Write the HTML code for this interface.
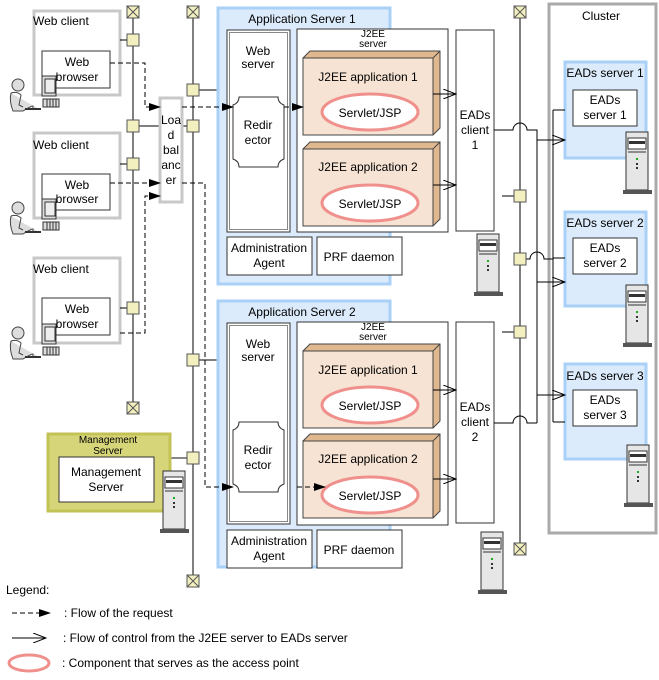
<!DOCTYPE html>
<html><head><meta charset="utf-8"><style>
html,body{margin:0;padding:0;background:#fff;}
svg{display:block;font-family:"Liberation Sans",sans-serif;}
text{font-size:12px;fill:#000;}
.s{font-size:10px;}
</style></head><body>
<svg width="659" height="680" viewBox="0 0 659 680" xmlns="http://www.w3.org/2000/svg">
<defs>
<marker id="fa" markerWidth="12" markerHeight="8" refX="11" refY="4" orient="auto" markerUnits="userSpaceOnUse"><path d="M0,0 L12,4 L0,8 Z" fill="#000"/></marker>
<marker id="oa" markerWidth="14" markerHeight="10" refX="13" refY="5" orient="auto" markerUnits="userSpaceOnUse"><path d="M0,0 L13,5 L0,10" fill="none" stroke="#000" stroke-width="1"/></marker>
<g id="sq"><rect x="-6" y="-6" width="12" height="12" fill="#f3f0c0" stroke="#555"/></g>
<g id="xb"><rect x="-6" y="-6" width="12" height="12" fill="#f3f0c0" stroke="#555"/><path d="M-6,-6 L6,6 M6,-6 L-6,6" stroke="#555"/></g>
<g id="srv"><rect x="3" y="0" width="22" height="58" fill="#e6e6e6" stroke="#333"/><rect x="0" y="58" width="29" height="4" fill="#555"/><rect x="5" y="6" width="18" height="11" fill="#fff" stroke="#333"/><rect x="6" y="9" width="16" height="3" fill="#333"/><line x1="5" y1="20" x2="23" y2="20" stroke="#333"/><rect x="13" y="26" width="2" height="2" fill="#2a2"/><rect x="13" y="31" width="2" height="2" fill="#333"/><rect x="13" y="35" width="2" height="2" fill="#333"/></g>
<g id="per"><circle cx="13" cy="6" r="6" fill="#ddd" stroke="#444"/><path d="M6,14 Q4,22 8,32 L18,32 Q26,27 28,27 L28,30 L34,30" fill="#ddd" stroke="#444"/><path d="M6,14 Q12,12 16,16 L14,26 L18,28" fill="none" stroke="#444"/><rect x="37" y="-3" width="14" height="20" fill="#ddd" stroke="#333"/><rect x="40" y="0" width="10" height="14" fill="#eee" stroke="#333"/><rect x="38" y="20" width="16" height="8" fill="#ddd" stroke="#333"/><path d="M42,20v8M45,20v8M48,20v8M51,20v8" stroke="#333"/><line x1="20" y1="30" x2="36" y2="30" stroke="#333" stroke-width="2"/></g>
<g id="app"><path d="M0,7 L7,0 L137,0 L137,77 L130,84 Z" fill="#e0b890" stroke="#444"/><rect x="0" y="7" width="130" height="77" fill="#f6e3d3" stroke="#444"/><line x1="130" y1="7" x2="137" y2="0" stroke="#444"/><ellipse cx="67" cy="61" rx="48" ry="18" fill="#fff" stroke="#f0908c" stroke-width="3"/><text x="67" y="66" text-anchor="middle" font-size="12">Servlet/JSP</text></g>
<g id="redir"><path d="M6,0 L45,0 Q45,6 51,8 L51,62 Q45,64 45,70 L6,70 Q6,64 0,62 L0,8 Q6,6 6,0 Z" fill="#fff" stroke="#333"/></g>
</defs>

<!-- Web clients -->
<g fill="#fff" stroke="#c8c8c8" stroke-width="3">
<rect x="34" y="11" width="86" height="84"/><rect x="34" y="133" width="86" height="85"/><rect x="34" y="258" width="86" height="85"/>
</g>
<text x="33" y="25">Web client</text><text x="33" y="149">Web client</text><text x="33" y="273">Web client</text>
<g fill="#fff" stroke="#333"><rect x="42" y="51" width="68" height="37"/><rect x="42" y="174" width="68" height="36"/><rect x="42" y="298" width="68" height="37"/></g>
<g text-anchor="middle"><text x="77" y="66">Web</text><text x="77" y="81">browser</text><text x="77" y="189">Web</text><text x="77" y="203">browser</text><text x="77" y="313">Web</text><text x="77" y="328">browser</text></g>
<use href="#per" x="5" y="79"/><use href="#per" x="5" y="202"/><use href="#per" x="5" y="327"/>

<!-- network lines -->
<g stroke="#000"><line x1="133" y1="12" x2="133" y2="408"/><line x1="193" y1="12" x2="193" y2="581"/><line x1="520" y1="12" x2="520" y2="548"/>
<line x1="120" y1="40" x2="133" y2="40"/><line x1="120" y1="164" x2="133" y2="164"/><line x1="120" y1="308" x2="133" y2="308"/>
<line x1="133" y1="126" x2="160" y2="126"/><line x1="182" y1="126" x2="193" y2="126"/><line x1="193" y1="90" x2="217" y2="90"/><line x1="193" y1="360" x2="217" y2="360"/>
<line x1="170" y1="458" x2="193" y2="458" stroke="#888" stroke-width="2"/>
<line x1="502" y1="196" x2="520" y2="196"/><line x1="502" y1="332" x2="520" y2="332"/></g>

<!-- Load balancer -->
<rect x="160" y="98" width="22" height="104" fill="#fff" stroke="#c8c8c8" stroke-width="3"/>
<g text-anchor="middle"><text x="171" y="124">Loa</text><text x="171" y="139">d</text><text x="171" y="154">bal</text><text x="171" y="169">anc</text><text x="171" y="184">er</text></g>

<!-- Cluster -->
<rect x="549" y="4" width="107" height="529" fill="#fff" stroke="#aaa" stroke-width="3"/>
<text x="601" y="20" text-anchor="middle">Cluster</text>

<!-- App servers -->
<g fill="#dcebfb" stroke="#a9d1f7" stroke-width="3"><rect x="218" y="8" width="172" height="276"/><rect x="218" y="301" width="172" height="266"/></g>
<text x="302" y="23" text-anchor="middle">Application Server 1</text>
<text x="302" y="316" text-anchor="middle">Application Server 2</text>

<g fill="#fff" stroke="#333">
<rect x="227" y="30" width="63" height="202"/><rect x="229.5" y="32.5" width="58" height="197" fill="none" stroke="#888"/>
<rect x="297" y="29" width="151" height="203"/>
<rect x="456" y="30" width="38" height="201"/>
<rect x="227" y="237" width="85" height="38"/><rect x="317" y="237" width="85" height="38"/>
<rect x="227" y="323" width="63" height="201"/><rect x="229.5" y="325.5" width="58" height="196" fill="none" stroke="#888"/>
<rect x="297" y="322" width="151" height="203"/>
<rect x="456" y="322" width="38" height="201"/>
<rect x="227" y="530" width="85" height="38"/><rect x="317" y="530" width="85" height="38"/>
</g>
<g text-anchor="middle">
<text x="258" y="55">Web</text><text x="258" y="68">server</text>
<text x="258" y="348">Web</text><text x="258" y="361">server</text>
<text class="s" x="373" y="37">J2EE</text><text class="s" x="373" y="47">server</text>
<text class="s" x="373" y="330">J2EE</text><text class="s" x="373" y="340">server</text>
<text x="475" y="119">EADs</text><text x="475" y="134">client</text><text x="475" y="149">1</text>
<text x="475" y="411">EADs</text><text x="475" y="426">client</text><text x="475" y="441">2</text>
<text x="269" y="252">Administration</text><text x="269" y="267">Agent</text><text x="359" y="261">PRF daemon</text>
<text x="269" y="545">Administration</text><text x="269" y="560">Agent</text><text x="359" y="554">PRF daemon</text>
</g>
<use href="#redir" x="233" y="97"/><use href="#redir" x="233" y="422"/>
<g text-anchor="middle"><text x="258" y="129">Redir</text><text x="258" y="144">ector</text><text x="258" y="454">Redir</text><text x="258" y="469">ector</text></g>
<use href="#app" x="303" y="51"/><use href="#app" x="303" y="142"/><use href="#app" x="303" y="344"/><use href="#app" x="303" y="434"/>
<g text-anchor="middle"><text x="368" y="81">J2EE application 1</text><text x="368" y="171">J2EE application 2</text><text x="368" y="374">J2EE application 1</text><text x="368" y="463">J2EE application 2</text></g>
<g stroke="#000" marker-end="url(#oa)"><line x1="433" y1="94" x2="456" y2="94"/><line x1="433" y1="185" x2="456" y2="185"/><line x1="433" y1="390" x2="456" y2="390"/><line x1="433" y1="479" x2="456" y2="479"/></g>
<use href="#srv" x="474" y="234"/><use href="#srv" x="478" y="532"/>

<!-- EADs servers -->
<g fill="#dcebfb" stroke="#a9d1f7" stroke-width="3"><rect x="565" y="62" width="81" height="96"/><rect x="565" y="212" width="81" height="94"/><rect x="565" y="364" width="81" height="95"/></g>
<g fill="#fff" stroke="#333"><rect x="573" y="90" width="64" height="36"/><rect x="573" y="238" width="64" height="36"/><rect x="573" y="390" width="64" height="36"/></g>
<g text-anchor="middle"><text x="605" y="77">EADs server 1</text><text x="605" y="227">EADs server 2</text><text x="605" y="380">EADs server 3</text>
<text x="605" y="104">EADs</text><text x="605" y="119">server 1</text><text x="605" y="252">EADs</text><text x="605" y="267">server 2</text><text x="605" y="404">EADs</text><text x="605" y="419">server 3</text></g>
<use href="#srv" x="623" y="132"/><use href="#srv" x="623" y="285"/><use href="#srv" x="624" y="445"/>

<!-- control lines -->
<g stroke="#000" fill="none"><path d="M494,130 L513,130 A7,7 0 0 1 527,130 L537,130 L537,423"/><path d="M494,423 L513,423 A7,7 0 0 1 527,423 L537,423"/>
<path d="M526,259 L530,259 A7,7 0 0 1 544,259 L553,259"/><line x1="553" y1="110" x2="553" y2="422"/><line x1="553" y1="110" x2="565" y2="110"/><line x1="553" y1="258" x2="565" y2="258"/><line x1="553" y1="422" x2="565" y2="422"/>
<g marker-end="url(#oa)"><line x1="537" y1="140" x2="565" y2="140"/><line x1="537" y1="282" x2="565" y2="282"/><line x1="537" y1="395" x2="565" y2="395"/></g></g>

<!-- Management server -->
<rect x="48" y="434" width="122" height="77" fill="#d6d57a" stroke="#c3c255" stroke-width="3"/>
<text class="s" x="108" y="443" text-anchor="middle">Management</text><text class="s" x="108" y="454" text-anchor="middle">Server</text>
<rect x="59" y="457" width="95" height="45" fill="#fff" stroke="#333"/>
<text x="106" y="476" text-anchor="middle">Management</text><text x="106" y="491" text-anchor="middle">Server</text>
<use href="#srv" x="160" y="471"/>

<!-- squares -->
<use href="#xb" x="133" y="12"/><use href="#xb" x="133" y="408"/><use href="#xb" x="193" y="12"/><use href="#xb" x="193" y="581"/><use href="#xb" x="520" y="12"/><use href="#xb" x="520" y="549"/>
<use href="#sq" x="133" y="40"/><use href="#sq" x="133" y="126"/><use href="#sq" x="133" y="164"/><use href="#sq" x="133" y="308"/>
<use href="#sq" x="193" y="90"/><use href="#sq" x="193" y="126"/><use href="#sq" x="193" y="360"/><use href="#sq" x="193" y="458"/>
<use href="#sq" x="520" y="196"/><use href="#sq" x="520" y="259"/><use href="#sq" x="520" y="332"/>

<!-- request flow -->
<g stroke="#000" fill="none" stroke-dasharray="5,3">
<path d="M110,63 L145,63 L145,107 L160,107" marker-end="url(#fa)"/>
<path d="M182,107 L233,107" marker-end="url(#fa)"/>
<path d="M284,107 L303,107" marker-end="url(#fa)"/>
<path d="M110,183 L160,183" marker-end="url(#fa)"/>
<path d="M120,333 L145,333 L145,196 L160,196" marker-end="url(#fa)"/>
<path d="M182,183 L205,183 L205,487 L233,487" marker-end="url(#fa)"/>
<path d="M297,487 L325,487" marker-end="url(#fa)"/>
</g>

<!-- legend -->
<text x="6" y="594">Legend:</text>
<path d="M12,613 L50,613" stroke="#000" stroke-dasharray="5,3" marker-end="url(#fa)"/>
<text x="64" y="617">: Flow of the request</text>
<line x1="12" y1="638" x2="46" y2="638" stroke="#000" marker-end="url(#oa)"/>
<text x="63" y="642">: Flow of control from the J2EE server to EADs server</text>
<ellipse cx="29" cy="663" rx="20" ry="8" fill="#fff" stroke="#f0908c" stroke-width="3"/>
<text x="62" y="667">: Component that serves as the access point</text>
</svg>
</body></html>
